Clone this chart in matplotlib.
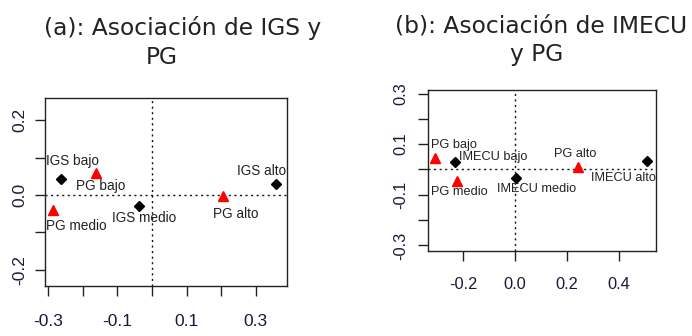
import matplotlib
matplotlib.use("Agg")
import matplotlib.pyplot as plt

W, H = 692, 336

# ---- panel (a): IGS y PG ----
a_labels = ["IGS bajo", "IGS medio", "IGS alto", "PG bajo", "PG medio", "PG alto"]
a_x = [-0.264, -0.037, 0.359, -0.163, -0.285, 0.206]
a_y = [0.044, -0.029, 0.029, 0.059, -0.040, -0.003]
a_kind = ["row", "row", "row", "col", "col", "col"]
a_xticks = [-0.3, -0.2, -0.1, 0.0, 0.1, 0.2, 0.3]
a_xticklabels = ["-0.3", "", "-0.1", "", "0.1", "", "0.3"]
a_yticks = [-0.2, -0.1, 0.0, 0.1, 0.2]
a_yticklabels = ["-0.2", "", "0.0", "", "0.2"]

# ---- panel (b): IMECU y PG ----
b_labels = ["IMECU bajo", "IMECU medio", "IMECU alto", "PG bajo", "PG medio", "PG alto"]
b_x = [-0.232, 0.004, 0.509, -0.308, -0.224, 0.242]
b_y = [0.028, -0.035, 0.032, 0.047, -0.045, 0.009]
b_kind = ["row", "row", "row", "col", "col", "col"]
b_xticks = [-0.2, 0.0, 0.2, 0.4]
b_xticklabels = ["-0.2", "0.0", "0.2", "0.4"]
b_yticks = [-0.3, -0.2, -0.1, 0.0, 0.1, 0.2, 0.3]
b_yticklabels = ["-0.3", "", "-0.1", "", "0.1", "", "0.3"]

# label offsets in pixels (right, down) relative to each point
a_off = [(12, -18), (5, 12), (-15, -13), (5, 13), (23, 16), (12, 18)]
b_off = [(38, -5), (20, 11), (-23, 17), (18, -13), (2, 11), (-2, -13)]

fig = plt.figure(figsize=(W / 100, H / 100), dpi=100)


def box(l, t, r, b):
    return [l / W, 1 - b / H, (r - l) / W, (b - t) / H]


def panel(rect, xs, ys, kinds, labels, offs, xlim, ylim, xt, xtl, yt, ytl,
          fs_lab, fs_tick, xpad, ypad):
    ax = fig.add_axes(rect)
    ax.axhline(0, color="#111111", lw=1, ls=(0, (1.5, 2.5)), zorder=1)
    ax.axvline(0, color="#111111", lw=1, ls=(0, (1.5, 2.5)), zorder=1)
    for x, y, k, lab, (dx, dy) in zip(xs, ys, kinds, labels, offs):
        if k == "row":
            ax.plot(x, y, marker="D", ms=5, color="black", ls="none", zorder=3)
        else:
            ax.plot(x, y, marker="^", ms=7.5, color="#ff0000", ls="none", zorder=3)
        ax.annotate(lab, (x, y), xytext=(dx, -dy), textcoords="offset pixels",
                    ha="center", va="center", fontsize=fs_lab,
                    family="Liberation Sans", color="#222222")
    ax.set_xlim(xlim)
    ax.set_ylim(ylim)
    ax.set_xticks(xt)
    ax.set_xticklabels(xtl, family="Liberation Sans", fontsize=fs_tick)
    ax.set_yticks(yt)
    ax.set_yticklabels(ytl, family="Liberation Sans", fontsize=fs_tick,
                       rotation=90, va="center")
    ax.tick_params(axis="both", length=7.5, width=1, color="#222222",
                   labelcolor="#1a1a3a")
    ax.tick_params(axis="x", pad=xpad)
    ax.tick_params(axis="y", pad=ypad)
    for s in ax.spines.values():
        s.set_linewidth(1)
        s.set_color("#222222")
    return ax


panel(box(45, 98, 287, 286), a_x, a_y, a_kind, a_labels, a_off,
      (-0.309, 0.390), (-0.243, 0.259), a_xticks, a_xticklabels,
      a_yticks, a_yticklabels, 9.8, 12.5, 13, 5)

panel(box(428, 90, 656, 251), b_x, b_y, b_kind, b_labels, b_off,
      (-0.337, 0.545), (-0.322, 0.314), b_xticks, b_xticklabels,
      b_yticks, b_yticklabels, 9.2, 11.8, 11, 6.5)

# titles, two lines each
tkw = dict(fontsize=16.8, family="DejaVu Sans", color="#222222",
           ha="center", va="baseline")
fig.text(182.5 / W, 1 - 35 / H, "(a): Asociación de IGS y", **tkw)
fig.text(161.5 / W, 1 - 64 / H, "PG", **tkw)
fig.text(541 / W, 1 - 32.5 / H, "(b): Asociación de IMECU", **tkw)
fig.text(537 / W, 1 - 61 / H, "y PG", **tkw)

fig.savefig("out.png", dpi=100)
